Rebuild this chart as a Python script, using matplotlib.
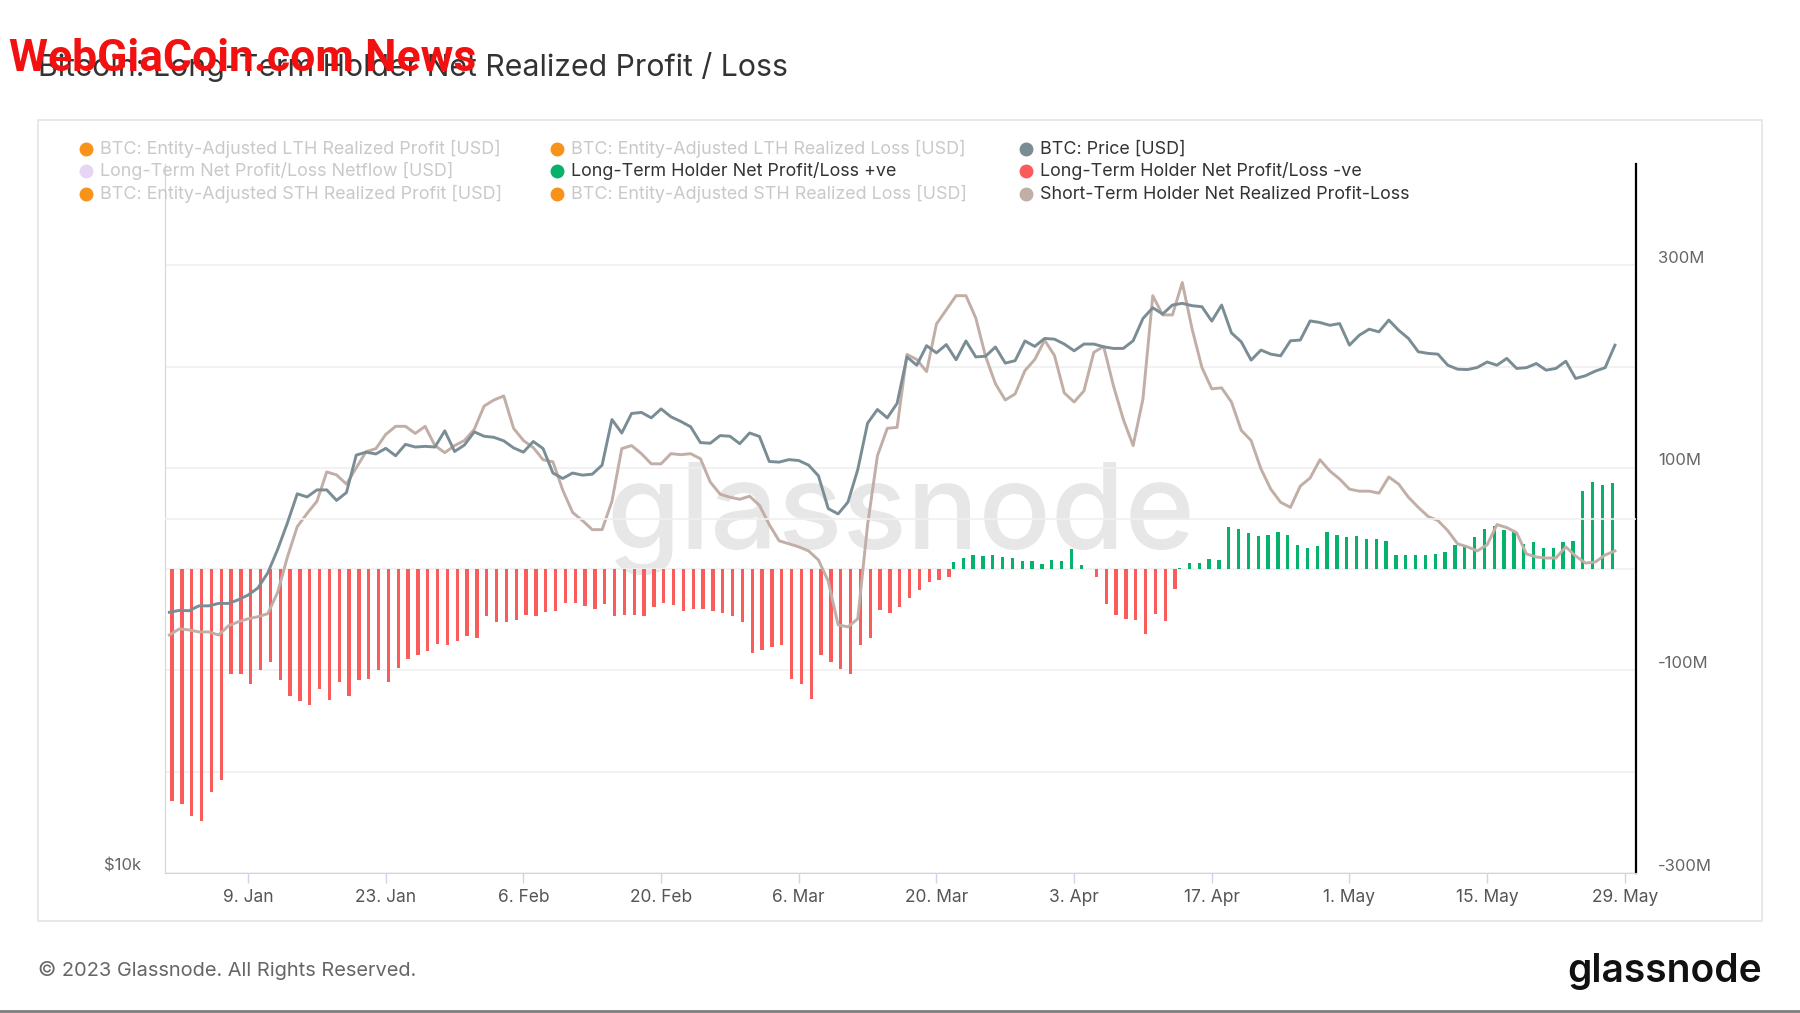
import numpy as np
import pandas as pd
import matplotlib
matplotlib.use("Agg")
import matplotlib.pyplot as plt
import matplotlib.dates as mdates
from matplotlib.ticker import NullLocator
from matplotlib.transforms import ScaledTranslation, blended_transform_factory
from matplotlib.lines import Line2D
from matplotlib.patches import Rectangle

plt.rcParams['font.family'] = ['Inter', 'DejaVu Sans']

# daily data, 1 Jan 2023 .. 28 May 2023
dates = pd.date_range('2023-01-01', periods=148, freq='D')

btc_price = [
    16650, 16710, 16700, 16860, 16860, 16940, 16940, 17060, 17220, 17460,
    17980, 18820, 19830, 20990, 20860, 21150, 21150, 20720, 21040, 22640,
    22770, 22690, 22940, 22610, 23120, 23000, 23030, 23000, 23740, 22800,
    23090, 23690, 23490, 23440, 23280, 22960, 22770, 23250, 22930, 21860,
    21630, 21860, 21770, 21810, 22200, 24270, 23640, 24560, 24610, 24350,
    24780, 24400, 24180, 23930, 23200, 23170, 23520, 23490, 23150, 23640,
    23480, 22360, 22330, 22440, 22400, 22200, 21740, 20390, 20180, 20650,
    22010, 24100, 24750, 24350, 25050, 27430, 26990, 28040, 27650, 28100,
    27280, 28300, 27430, 27470, 27970, 27100, 27230, 28300, 28000, 28440,
    28400, 28130, 27760, 28130, 28130, 27980, 27890, 27890, 28310, 29570,
    30200, 29830, 30360, 30460, 30320, 30260, 29420, 30360, 28750, 28250,
    27260, 27800, 27580, 27490, 28310, 28350, 29430, 29340, 29180, 29280,
    28070, 28620, 28960, 28810, 29480, 28900, 28440, 27710, 27620, 27580,
    26990, 26780, 26760, 26870, 27160, 26990, 27350, 26820, 26860, 27080,
    26730, 26820, 27200, 26300, 26440, 26680, 26860, 28070,
]

# Short-Term Holder Net Realized Profit-Loss, million USD
sth_net_pl = [
    -65, -59, -60, -62, -62, -65, -56, -52, -49, -47,
    -44, -23, 12, 42, 55, 67, 96, 93, 84, 100,
    116, 119, 133, 141, 141, 134, 141, 122, 115, 122,
    127, 138, 161, 167, 171, 139, 127, 120, 108, 106,
    78, 56, 48, 39, 39, 67, 119, 122, 114, 104,
    104, 114, 113, 114, 109, 86, 74, 71, 69, 72,
    63, 44, 28, 25, 22, 18, 9, -12, -55, -57,
    -49, 44, 112, 139, 140, 212, 207, 195, 242, 256,
    270, 270, 248, 210, 183, 167, 173, 196, 207, 226,
    211, 174, 165, 176, 214, 220, 181, 148, 122, 168,
    270, 251, 251, 283, 237, 199, 178, 179, 165, 137,
    127, 99, 79, 66, 61, 82, 90, 108, 97, 89,
    79, 77, 77, 75, 91, 84, 71, 61, 52, 48,
    38, 25, 22, 18, 24, 44, 41, 36, 15, 12,
    11, 11, 22, 13, 6, 7, 14, 18,
]

# Long-Term Holder Net Profit/Loss, million USD (+ve green, -ve red)
lth_net_pl = [
    -229, -232, -244, -249, -220, -208, -104, -104, -113, -100,
    -92, -109, -125, -130, -134, -118, -129, -111, -125, -109,
    -108, -100, -111, -98, -89, -85, -81, -74, -75, -71,
    -66, -68, -46, -52, -52, -50, -45, -46, -42, -41,
    -33, -33, -36, -39, -34, -46, -45, -45, -46, -37,
    -33, -35, -41, -39, -39, -41, -43, -46, -52, -83,
    -80, -77, -75, -108, -113, -128, -85, -92, -99, -104,
    -75, -68, -40, -43, -37, -28, -21, -13, -11, -8,
    7, 11, 14, 13, 14, 12, 11, 8, 8, 5,
    9, 8, 20, 4, -8, -34, -45, -49, -50, -64,
    -44, -51, -20, 1.6, 5.9, 5.9, 10.5, 8.9, 41.8, 40.1,
    35.5, 32.9, 34.2, 36.9, 34.2, 23.7, 20.4, 22.4, 36.9, 34.2,
    31.3, 32.6, 29.6, 29.6, 28.0, 13.8, 13.8, 13.8, 13.8, 14.8,
    16.5, 23.7, 23.7, 31.3, 40.1, 42.8, 38.5, 36.9, 25.3, 27.0,
    21.1, 21.1, 27.0, 28.0, 77.3, 86.2, 82.9, 84.6,
]

tick_dates = pd.date_range('2023-01-09', '2023-05-29', freq='14D')
tick_labels = [f"{d.day}. {d.strftime('%b')}" for d in tick_dates]
right_labels = [300, 100, -100, -300]

ORANGE = '#f7931a'
PRICE_C = '#7a8d94'
STH_C = '#c1aea6'
RED = '#fa5b5b'
GREEN = '#06b26b'
LAVENDER = '#e6d6f4'

legend_rows = [
    [("BTC: Entity-Adjusted LTH Realized Profit [USD]", ORANGE, False),
     ("BTC: Entity-Adjusted LTH Realized Loss [USD]", ORANGE, False),
     ("BTC: Price [USD]", PRICE_C, True)],
    [("Long-Term Net Profit/Loss Netflow [USD]", LAVENDER, False),
     ("Long-Term Holder Net Profit/Loss +ve", GREEN, True),
     ("Long-Term Holder Net Profit/Loss -ve", RED, True)],
    [("BTC: Entity-Adjusted STH Realized Profit [USD]", ORANGE, False),
     ("BTC: Entity-Adjusted STH Realized Loss [USD]", ORANGE, False),
     ("Short-Term Holder Net Realized Profit-Loss", STH_C, True)],
]

W, H = 1800, 1013
fig = plt.figure(figsize=(W / 100, H / 100), dpi=100, facecolor='white')


def fx(px):
    return px / W


def fy(py):
    return 1 - py / H


# panel frame
fig.patches.append(Rectangle((fx(38), fy(921)), fx(1762) - fx(38), fy(120) - fy(921),
                             transform=fig.transFigure, fill=False,
                             edgecolor='#e4e4e4', lw=1.2, zorder=0))

left, right, top, bottom = 165, 1636, 164, 873
ax = fig.add_axes([fx(left), fy(bottom), fx(right) - fx(left), fy(top) - fy(bottom)])
ax.set_facecolor('none')

xnum = mdates.date2num(dates)
lth = np.array(lth_net_pl, dtype=float)
neg = np.where(lth < 0, lth, 0)
pos = np.where(lth > 0, lth, 0)

ax.text(0.5, 0.5, 'glassnode', transform=ax.transAxes, ha='center', va='center',
        fontsize=86, color='#e7e7e7', fontweight='medium', zorder=0)

ax.bar(xnum + 0.27, neg, width=0.34, color=RED, lw=0, zorder=2)
ax.bar(xnum - 0.27, pos, width=0.34, color=GREEN, lw=0, zorder=2)
ax.plot(xnum, sth_net_pl, color=STH_C, lw=2.1, zorder=3, solid_joinstyle='round')

ax.set_ylim(-300, 400)
ax.set_xlim(xnum[0] - 0.45, xnum[-1] + 2.14)
ax.set_yticks([-300, -200, -100, 0, 100, 200, 300])
ax.yaxis.grid(True, color='#f0f0f0', lw=1.2, zorder=0)
ax.set_axisbelow(True)
ax.tick_params(axis='y', length=0, labelleft=False, labelright=False)
ax.set_xticks(mdates.date2num(tick_dates))
ax.set_xticklabels(tick_labels)
ax.tick_params(axis='x', length=7, color='#ccd6eb', width=1, pad=4.5,
               labelsize=12.5, labelcolor='#555555')

ax.spines['top'].set_visible(False)
ax.spines['left'].set_color('#ccd6eb')
ax.spines['bottom'].set_color('#ccd6eb')
ax.spines['right'].set_color('#000000')
ax.spines['right'].set_linewidth(1.6)

tr_r = blended_transform_factory(ax.transAxes, ax.transData) + \
    ScaledTranslation(0.22, 0.07, fig.dpi_scale_trans)
for v in right_labels:
    ax.text(1.0, v, f"{v}M", transform=tr_r, ha='left', va='center',
            fontsize=12, color='#666666')

# price on log left axis
axp = ax.twinx()
axp.set_yscale('log')
axp.set_ylim(10000, 40000)
axp.set_xlim(ax.get_xlim())
axp.plot(xnum, btc_price, color=PRICE_C, lw=2.1, zorder=4, solid_joinstyle='round')
axp.set_yticks([20000])
axp.yaxis.set_minor_locator(NullLocator())
axp.yaxis.grid(True, color='#f0f0f0', lw=1.2)
axp.tick_params(axis='y', length=0, labelleft=False, labelright=False)
for s in axp.spines.values():
    s.set_visible(False)

tr_l = blended_transform_factory(axp.transAxes, axp.transData) + \
    ScaledTranslation(-0.24, 0.07, fig.dpi_scale_trans)
axp.text(0.0, 10000, '$10k', transform=tr_l, ha='right', va='center',
         fontsize=12, color='#666666')

# legend
col_x = [86, 557, 1026]
row_y = [149, 171, 194]
for r, row in enumerate(legend_rows):
    for c, (label, color, active) in enumerate(row):
        fig.add_artist(Line2D([fx(col_x[c])], [fy(row_y[r])], marker='o', ms=9,
                              color=color, lw=0, transform=fig.transFigure))
        fig.text(fx(col_x[c] + 14), fy(row_y[r]), label, ha='left', va='center',
                 fontsize=12.9, color='#333333' if active else '#c9c9c9')

# title, watermark, footer
fig.text(fx(38), fy(76), 'Bitcoin: Long-Term Holder Net Realized Profit / Loss',
         ha='left', va='baseline', fontsize=21.8, color='#333333')
fig.text(fx(9), fy(71), 'WebGiaCoin.com News', ha='left', va='baseline',
         fontsize=32, fontweight='bold', color='#f21010',
         family=['Roboto', 'DejaVu Sans'])
fig.text(fx(38), fy(970), '\u00a9 2023 Glassnode. All Rights Reserved.',
         ha='left', va='center', fontsize=14.4, color='#666666')
fig.text(fx(1762), fy(971), 'glassnode', ha='right', va='center',
         fontsize=28, fontweight='semibold', color='#111111')
fig.add_artist(Line2D([0, 1], [fy(1011), fy(1011)], color='#7d7d7d', lw=2,
                      transform=fig.transFigure))

fig.savefig('out.png', dpi=100, facecolor='white')
